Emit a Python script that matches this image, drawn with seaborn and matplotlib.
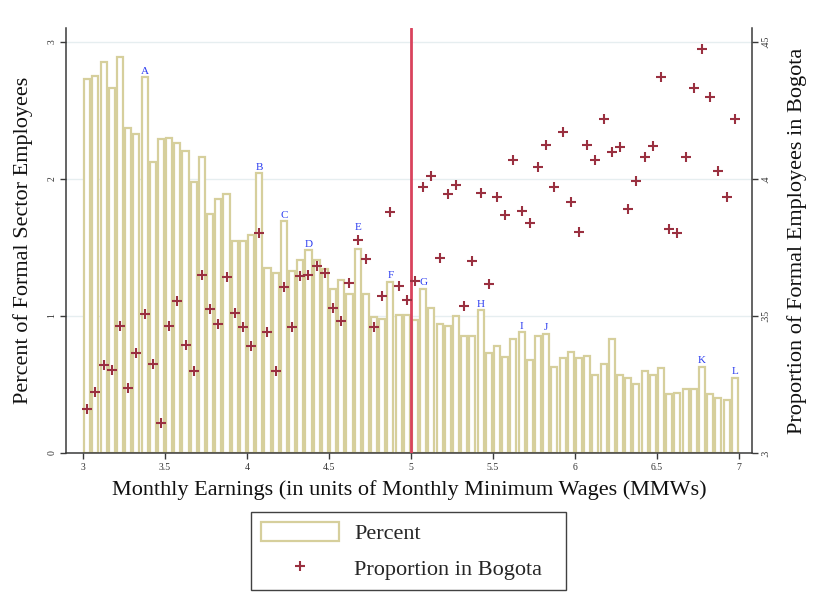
import numpy as np
import pandas as pd
import matplotlib
matplotlib.use("Agg")
import matplotlib.pyplot as plt
from matplotlib.patches import Patch
from matplotlib.lines import Line2D
import seaborn as sns

# ---------------- data ----------------
bin_start = 3.0
bin_width = 0.05
n_bins = 80

percent = [2.73, 2.75, 2.85, 2.66, 2.89, 2.37, 2.33, 2.74, 2.12, 2.29,
           2.30, 2.26, 2.20, 1.98, 2.16, 1.74, 1.85, 1.89, 1.55, 1.55,
           1.59, 2.04, 1.35, 1.31, 1.69, 1.33, 1.41, 1.48, 1.41, 1.34,
           1.20, 1.26, 1.16, 1.49, 1.16, 0.99, 0.98, 1.25, 1.01, 1.01,
           0.97, 1.20, 1.06, 0.94, 0.93, 1.00, 0.855, 0.855, 1.04, 0.73,
           0.78, 0.70, 0.83, 0.88, 0.68, 0.85, 0.87, 0.63, 0.69, 0.74,
           0.69, 0.71, 0.57, 0.65, 0.83, 0.57, 0.55, 0.50, 0.60, 0.57,
           0.62, 0.43, 0.44, 0.47, 0.47, 0.63, 0.43, 0.40, 0.39, 0.55]

bogota = [0.3159, 0.3224, 0.3321, 0.3304, 0.3463, 0.3236, 0.3364, 0.3506, 0.3326, 0.3111,
          0.3462, 0.3555, 0.3395, 0.3300, 0.3651, 0.3526, 0.3469, 0.3642, 0.3511, 0.3460,
          0.3391, 0.3804, 0.3443, 0.3300, 0.3606, 0.3459, 0.3647, 0.3650, 0.3682, 0.3657,
          0.3530, 0.3480, 0.3620, 0.3777, 0.3707, 0.3459, 0.3574, 0.3878, 0.3608, 0.3559,
          0.3628, 0.3969, 0.4009, 0.3712, 0.3945, 0.3976, 0.3535, 0.3700, 0.3948, 0.3618,
          0.3933, 0.3868, 0.4068, 0.3881, 0.3838, 0.4043, 0.4125, 0.3970, 0.4170, 0.3915,
          0.3806, 0.4124, 0.4070, 0.4217, 0.4097, 0.4116, 0.3889, 0.3993, 0.4080, 0.4119,
          0.4372, 0.3817, 0.3804, 0.4079, 0.4330, 0.4473, 0.4300, 0.4030, 0.3933, 0.4217]

letters = ["A", "B", "C", "D", "E", "F", "G", "H", "I", "J", "K", "L"]
letter_bins = [7, 21, 24, 27, 33, 37, 41, 48, 53, 56, 75, 79]

threshold = 5.0
x_ticks = [3, 3.5, 4, 4.5, 5, 5.5, 6, 6.5, 7]
x_ticklabels = ["3", "3.5", "4", "4.5", "5", "5.5", "6", "6.5", "7"]
yl_ticks = [0, 1, 2, 3]
yl_ticklabels = ["0", "1", "2", "3"]
yr_ticks = [0.30, 0.35, 0.40, 0.45]
yr_ticklabels = [".3", ".35", ".4", ".45"]

centers = np.round(bin_start + bin_width * (np.arange(n_bins) + 0.5), 4)
df = pd.DataFrame({"earn": centers, "percent": percent, "bogota": bogota})

# ---------------- style ----------------
sns.set_theme(style="white")
plt.rcParams["font.family"] = ["Liberation Serif", "DejaVu Serif"]

BAR_EDGE = "#d6cf9c"
MARK = "#9a3040"
RED = "#d9435d"
SPINE = "#3a3a3a"
GRID = "#e6eef0"

fig = plt.figure(figsize=(8.22, 6.15), dpi=100)
ax = fig.add_axes([0.0803, 0.2634, 0.8345, 0.691])
ax2 = ax.twinx()

sns.barplot(data=df, x="earn", y="percent", native_scale=True, width=0.74,
            color="white", edgecolor=BAR_EDGE, linewidth=1.6, errorbar=None,
            ax=ax, zorder=2)
for p in ax.patches:
    p.set_facecolor("white")

ax.axvline(threshold, color=RED, lw=2.0, zorder=5)

sns.scatterplot(data=df, x="earn", y="bogota", marker="+", s=50,
                color=MARK, linewidth=1.5, ax=ax2, zorder=6, legend=False)

for lab, b in zip(letters, letter_bins):
    extra = 12 if lab == "E" else 1
    ax.annotate(lab, (centers[b], percent[b]), xytext=(0, extra),
                textcoords="offset points", ha="center", va="bottom",
                color="#2b3cf0", fontsize=8, zorder=7)

# axes limits
ax.set_xlim(2.896, 7.08)
ax.set_ylim(0, 3.10)
ax2.set_ylim(0.30, 0.4550)

ax.set_xticks(x_ticks)
ax.set_xticklabels(x_ticklabels)
ax.set_yticks(yl_ticks)
ax.set_yticklabels(yl_ticklabels, rotation=90, va="center")
ax2.set_yticks(yr_ticks)
ax2.set_yticklabels(yr_ticklabels, rotation=90, va="center")

ax.yaxis.grid(True, color=GRID, lw=1.0, zorder=0)
ax.set_axisbelow(True)
ax2.grid(False)

for a in (ax, ax2):
    for s in a.spines.values():
        s.set_color(SPINE)
        s.set_linewidth(1.1)
    a.spines["top"].set_visible(False)
    a.tick_params(direction="out", length=4, width=1, color=SPINE,
                  labelsize=7, labelcolor="#333333", pad=3)
ax.spines["right"].set_visible(False)
ax2.spines["left"].set_visible(False)
ax2.spines["bottom"].set_visible(False)
ax.tick_params(axis="x", bottom=True)
ax.tick_params(axis="y", left=True)
ax2.tick_params(axis="y", right=True)

ax.set_xlabel("Monthly Earnings (in units of Monthly Minimum Wages (MMWs)",
              fontsize=16, color="#111111", labelpad=6)
ax.set_ylabel("Percent of Formal Sector Employees", fontsize=16,
              color="#111111", labelpad=10)
ax2.set_ylabel("Proportion of Formal Employees in Bogota", fontsize=16,
               color="#111111", labelpad=12, rotation=90)

handles = [Patch(facecolor="white", edgecolor=BAR_EDGE, linewidth=1.6),
           Line2D([], [], ls="none", marker="+", color=MARK, markersize=7.5,
                  markeredgewidth=1.5)]
leg = fig.legend(handles, ["Percent", "Proportion in Bogota"],
                 loc="lower left", bbox_to_anchor=(0.3054, 0.0407, 0.3832, 0.12),
                 mode="expand",
                 fontsize=16, frameon=True, fancybox=False,
                 handlelength=3.5, handleheight=1.0, handletextpad=0.7,
                 labelspacing=0.6, borderpad=0.45, borderaxespad=0)
leg.get_frame().set_edgecolor("#111111")
leg.get_frame().set_linewidth(1.0)

fig.savefig("out.png", dpi=100, facecolor="white")
